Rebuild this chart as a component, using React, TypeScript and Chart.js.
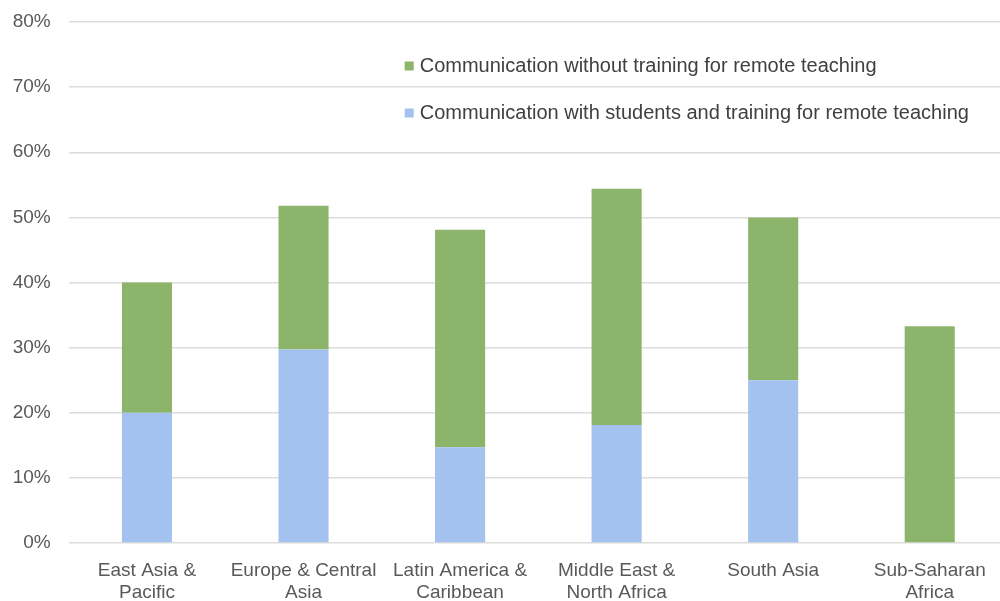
import React, { useEffect, useRef } from "react";
import { Chart, registerables } from "chart.js";

Chart.register(...registerables);

const categories: string[][] = [
  ["East Asia &", "Pacific"],
  ["Europe & Central", "Asia"],
  ["Latin America &", "Caribbean"],
  ["Middle East &", "North Africa"],
  ["South Asia"],
  ["Sub-Saharan", "Africa"],
];
const withTraining = [20, 29.7, 14.7, 18.1, 25, 0];
const withoutTraining = [20, 22.1, 33.4, 36.3, 25, 33.3];
const seriesNames = [
  "Communication with students and training for remote teaching",
  "Communication without training for remote teaching",
];
const yTicks = [0, 10, 20, 30, 40, 50, 60, 70, 80];

const BLUE = "#a3c2ef";
const GREEN = "#8db46b";
const FONT = "'Liberation Sans', Arial, sans-serif";

const legendPlugin = {
  id: "customLegend",
  afterDraw(chart: any) {
    const { ctx, chartArea } = chart;
    const items = [
      { label: seriesNames[1], color: GREEN },
      { label: seriesNames[0], color: BLUE },
    ];
    ctx.save();
    ctx.font = `20px ${FONT}`;
    ctx.textBaseline = "middle";
    ctx.textAlign = "left";
    items.forEach((it, i) => {
      const x = chartArea.left + 336;
      const y = chartArea.top + 44 + i * 47;
      ctx.fillStyle = it.color;
      ctx.fillRect(x, y - 4.5, 9, 9);
      ctx.fillStyle = "#404040";
      ctx.fillText(it.label, x + 15, y);
    });
    ctx.restore();
  },
};

export default function App() {
  const ref = useRef<HTMLCanvasElement>(null);
  useEffect(() => {
    if (!ref.current) return;
    const chart = new Chart(ref.current, {
      type: "bar",
      data: {
        labels: categories,
        datasets: [
          {
            label: seriesNames[0],
            data: withTraining,
            backgroundColor: BLUE,
            categoryPercentage: 0.32,
            barPercentage: 1,
          },
          {
            label: seriesNames[1],
            data: withoutTraining,
            backgroundColor: GREEN,
            categoryPercentage: 0.32,
            barPercentage: 1,
          },
        ],
      },
      options: {
        responsive: false,
        animation: false,
        layout: { padding: { top: 22, right: 2, left: 0, bottom: 0 } },
        plugins: {
          legend: { display: false },
          tooltip: { enabled: false },
        },
        scales: {
          x: {
            stacked: true,
            grid: { display: false, drawTicks: false },
            border: { display: false },
            ticks: {
              maxRotation: 0,
              autoSkip: false,
              padding: 17,
              color: "#595959",
              font: { family: FONT, size: 19, lineHeight: 1.15 },
            },
            afterFit(scale: any) {
              scale.height = 58;
            },
          },
          y: {
            stacked: true,
            min: 0,
            max: 80,
            afterBuildTicks(scale: any) {
              scale.ticks = yTicks.map((v) => ({ value: v }));
            },
            grid: { color: "#dcdcdc", lineWidth: 1.5, drawTicks: false },
            border: { display: false },
            ticks: {
              padding: 18,
              color: "#595959",
              font: { family: FONT, size: 19 },
              callback: (v: any) => `${v}%`,
            },
            afterFit(scale: any) {
              scale.width = 68.7;
              scale.paddingTop = 0;
              scale.paddingBottom = 0;
            },
          },
        },
      },
      plugins: [legendPlugin],
    });
    return () => chart.destroy();
  }, []);
  return (
    <div
      style={{
        position: "absolute",
        left: 0,
        top: 0,
        width: 1000,
        height: 601,
        overflow: "hidden",
        background: "#fff",
      }}
    >
      <canvas ref={ref} width={1010} height={601} />
    </div>
  );
}
